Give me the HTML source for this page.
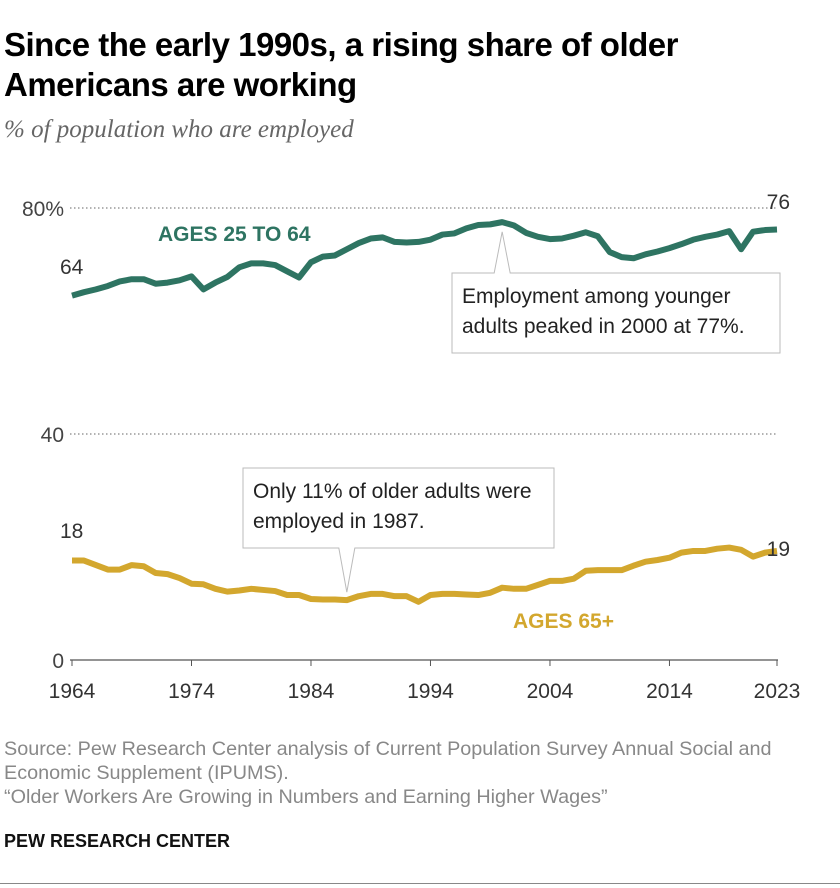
<!DOCTYPE html>
<html><head><meta charset="utf-8"><style>
body{margin:0;background:#fff;width:840px;height:888px;overflow:hidden;font-family:"Liberation Sans",sans-serif}
#title{position:absolute;left:4px;top:25px;font-size:33px;font-weight:bold;line-height:40px;color:#000;letter-spacing:-0.5px}
#sub{position:absolute;left:4px;top:116px;font-family:"Liberation Serif",serif;font-style:italic;font-size:25px;color:#666}
.src{position:absolute;left:4px;font-size:19.8px;color:#888;line-height:24px}
#brand{position:absolute;left:4px;top:831px;font-size:18px;font-weight:bold;color:#111}
#rule{position:absolute;left:0;top:883px;width:840px;height:1px;background:#888}
</style></head><body>
<div id="title">Since the early 1990s, a rising share of older<br>Americans are working</div>
<div id="sub">% of population who are employed</div>
<svg id="chart" width="840" height="720" style="position:absolute;left:0;top:0"></svg>
<div class="src" style="top:737px">Source: Pew Research Center analysis of Current Population Survey Annual Social and<br>Economic Supplement (IPUMS).<br>“Older Workers Are Growing in Numbers and Earning Higher Wages”</div>
<div id="brand">PEW RESEARCH CENTER</div>
<div id="rule"></div>
<script>
const years=[];for(let y=1964;y<=2023;y++)years.push(y);
const ages25to64=[64.5,65.1,65.6,66.2,67.0,67.4,67.4,66.6,66.8,67.2,67.9,65.6,66.8,67.8,69.5,70.2,70.2,69.9,68.8,67.7,70.4,71.4,71.6,72.7,73.8,74.6,74.8,74.0,73.9,74.0,74.4,75.3,75.5,76.4,77.0,77.1,77.5,76.9,75.6,74.9,74.5,74.6,75.1,75.7,75.0,72.2,71.3,71.1,71.8,72.3,72.9,73.6,74.4,74.9,75.3,75.9,72.7,75.8,76.1,76.2];
const ages65plus=[17.6,17.6,16.8,16.0,16.0,16.8,16.6,15.4,15.2,14.5,13.5,13.4,12.6,12.1,12.3,12.6,12.4,12.2,11.5,11.5,10.8,10.7,10.7,10.6,11.3,11.7,11.7,11.3,11.3,10.3,11.5,11.7,11.7,11.6,11.5,11.9,12.8,12.6,12.6,13.3,14.0,14.0,14.4,15.8,15.9,15.9,15.9,16.7,17.4,17.7,18.1,19.0,19.3,19.3,19.7,19.9,19.5,18.3,19.0,19.3];
const yTicks=[0,40,80];const yTickLabels=["0","40","80%"];
const xTicks=[1964,1974,1984,1994,2004,2014,2023];
const svg=document.getElementById('chart');const NS='http://www.w3.org/2000/svg';
const X=v=>72+(v-1964)*(777-72)/59;const Y=v=>660-v*(660-208)/80;
function mk(t,a,txt){const e=document.createElementNS(NS,t);for(const k in a)e.setAttribute(k,a[k]);if(txt!=null)e.textContent=txt;svg.appendChild(e);return e;}
yTicks.forEach((t,i)=>{
 const l=mk('line',{x1:70,x2:778,y1:Y(t),y2:Y(t),stroke:t===0?'#555':'#999','stroke-width':t===0?1.2:1.5,'stroke-dasharray':t===0?'none':'1.5 2.5'});
 
 
 const tx=mk('text',{x:64,y:Y(t)+8,'text-anchor':'end','font-size':21,fill:'#444'},yTickLabels[i]);
 
 
});
xTicks.forEach(t=>{
 const tk=mk('line',{x1:X(t),x2:X(t),y1:660,y2:666,stroke:'#555'});
 
 
 const tx=mk('text',{x:X(t),y:698,'text-anchor':'middle','font-size':21,fill:'#333'},String(t));
 
 
});
function line(vals,color,name){
 const p=mk('polyline',{points:vals.map((v,i)=>X(years[i])+','+Y(v)).join(' '),fill:'none',stroke:color,'stroke-width':6,'stroke-linejoin':'round'});
 
 
}
line(ages25to64,'#2e7462','line-ages-25-to-64');
line(ages65plus,'#d3a72e','line-ages-65-plus');
function lab(x,y,t,c,b,n,anchor){const e=mk('text',{x:x,y:y,'font-size':21,'font-weight':b?'bold':'normal',fill:c,'text-anchor':anchor||'start'},t);
 
 }
lab(158,241,'AGES 25 TO 64','#2e7462',true,'series-label-25-64');
lab(513,628,'AGES 65+','#d3a72e',true,'series-label-65-plus');
lab(60,274,'64','#333',false,'start-label-25-64');
lab(60,538,'18','#333',false,'start-label-65');
lab(790,209,'76','#333',false,'end-label-25-64','end');
lab(790,556,'19','#333',false,'end-label-65','end');
function callout(x,y,w,h,px,py,up,lines,n){
 const g=document.createElementNS(NS,'g');svg.appendChild(g);
 
 
 let d;
 if(up)d=`M${x},${y} H${px-8} L${px},${py} L${px+8},${y} H${x+w} V${y+h} H${x} Z`;
 else d=`M${x},${y} H${x+w} V${y+h} H${px+8} L${px},${py} L${px-8},${y+h} H${x} Z`;
 const p=document.createElementNS(NS,'path');p.setAttribute('d',d);p.setAttribute('fill','#fff');p.setAttribute('stroke','#bbb');g.appendChild(p);
 lines.forEach((t,i)=>{const e=document.createElementNS(NS,'text');e.setAttribute('x',x+10);e.setAttribute('y',y+30+i*30);e.setAttribute('font-size',21);e.setAttribute('fill','#222');e.textContent=t;g.appendChild(e);});
}
callout(452,273,328,80,X(2000),Y(77.2)+8,true,['Employment among younger','adults peaked in 2000 at 77%.'],'callout-2000-peak');
callout(243,468,311,80,X(1987),Y(10.6)-8,false,['Only 11% of older adults were','employed in 1987.'],'callout-1987-low');
</script>
</body></html>
